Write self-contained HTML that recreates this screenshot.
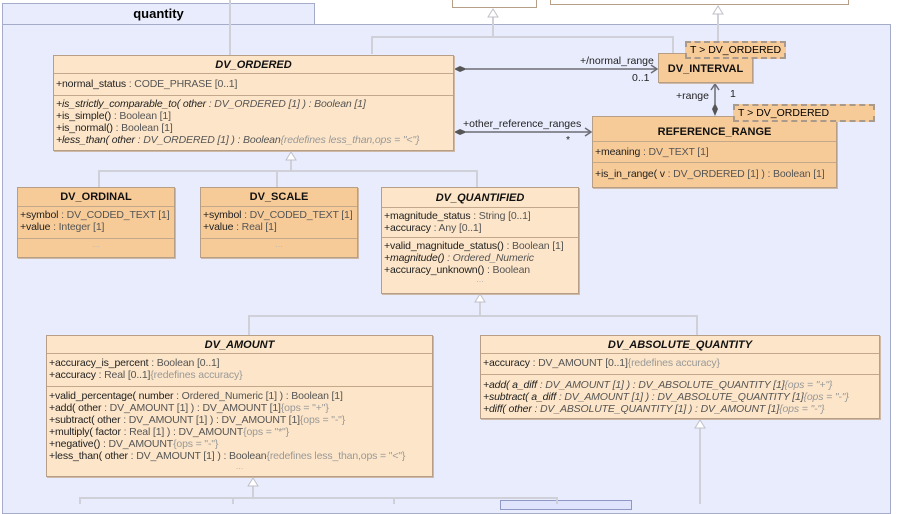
<!DOCTYPE html>
<html><head><meta charset="utf-8"><style>
*{margin:0;padding:0;box-sizing:border-box}
body{width:909px;height:504px;overflow:hidden;background:#fff;font-family:"Liberation Sans",Arial,sans-serif;position:relative}
.abs{position:absolute}
.cls{position:absolute;border:1px solid #b79e86;box-shadow:1px 1px 0 #cdb9a6}
.deep{background:#f7cb98}
.light{background:#fce5c8}
.hd{font-weight:bold;font-size:11px;text-align:center;color:#111;border-bottom:1px solid #c4a88c}
.it{font-style:italic}
.sec{font-size:10.5px;line-height:12px;padding:2px 2px;color:#222;border-bottom:1px solid #c4a88c;white-space:nowrap;letter-spacing:-0.15px}
.sec:last-child{border-bottom:none}
.g{color:#555}
.gg{color:#999}
.dots{text-align:center;color:#bbb;font-size:9px}
.lbl{position:absolute;font-size:10.5px;color:#222;white-space:nowrap}
.tmpl{position:absolute;background:#f7cb98;border:2px dashed #a99a8c;font-size:10.5px;padding:0 3px;line-height:14px;white-space:nowrap}
</style></head><body>
<div class="abs" style="left:2px;top:24px;width:889px;height:490px;background:#e9ecfd;border:1px solid #a5acc9"></div>
<div class="abs" style="left:2px;top:3px;width:313px;height:22px;background:#e9ecfd;border:1px solid #a5acc9;font-weight:bold;font-size:13px;text-align:center;line-height:20px">quantity</div>
<div class="abs" style="left:452px;top:-4px;width:85px;height:12px;background:#fff;border:1px solid #b79e86"></div>
<div class="abs" style="left:550px;top:-4px;width:299px;height:9px;background:#fff;border:1px solid #b79e86"></div>
<div class="abs" style="left:500px;top:500px;width:132px;height:10px;background:#dfe3fb;border:1px solid #8f98c4"></div>

<svg class="abs" style="left:0;top:0" width="909" height="504">
<g stroke="#cfd0d8" stroke-width="2" fill="none">
<line x1="230" y1="0" x2="230" y2="55"/>
<polyline points="372,54 372,37 673,37 673,53"/>
<line x1="493" y1="37" x2="493" y2="16"/>
<line x1="718" y1="41" x2="718" y2="14"/>
<line x1="291" y1="160" x2="291" y2="171"/>
<polyline points="99,187 99,171 477,171 477,187"/>
<line x1="277" y1="171" x2="277" y2="187"/>
<line x1="480" y1="302" x2="480" y2="316"/>
<polyline points="249,335 249,316 697,316 697,335"/>
<line x1="253" y1="486" x2="253" y2="498"/>
<polyline points="80,504 80,498 557,498 557,504"/>
<line x1="233" y1="498" x2="233" y2="504"/>
<line x1="394" y1="498" x2="394" y2="504"/>
<line x1="700" y1="428" x2="700" y2="504"/>
</g>
<g stroke="#c0c0c8" stroke-width="1" fill="#fff">
<polygon points="493,9 488,17 498,17"/>
<polygon points="718,6 713,14 723,14"/>
<polygon points="291,152 286,160 296,160"/>
<polygon points="480,294 475,302 485,302"/>
<polygon points="253,478 248,486 258,486"/>
<polygon points="700,420 695,428 705,428"/>
</g>
<g stroke="#6c6c74" stroke-width="1.5" fill="none">
<line x1="466" y1="69" x2="657" y2="69"/>
<polyline points="651,65 657,69 651,73"/>
<line x1="466" y1="132" x2="591" y2="132"/>
<polyline points="585,128 591,132 585,136"/>
<line x1="715" y1="85" x2="715" y2="104"/>
<polyline points="711,90 715,84 719,90"/>
</g>
<g fill="#555">
<polygon points="454,69 460,66 467,69 460,72"/>
<polygon points="454,132 460,129 467,132 460,135"/>
<polygon points="715,103 712,109 715,116 718,109"/>
</g>
</svg>

<div class="lbl" style="left:580px;top:55px">+/normal_range</div>
<div class="lbl" style="left:632px;top:72px">0..1</div>
<div class="lbl" style="left:676px;top:90px">+range</div>
<div class="lbl" style="left:730px;top:88px">1</div>
<div class="lbl" style="left:463px;top:118px">+other_reference_ranges</div>
<div class="lbl" style="left:566px;top:134px">*</div>

<div class="cls light" style="left:53px;top:55px;width:401px;height:96px">
<div class="hd it" style="height:18px;line-height:18px">DV_ORDERED</div>
<div class="sec" style="height:22px;padding-top:4px">+normal_status <span class="g">: CODE_PHRASE [0..1]</span></div>
<div class="sec"><i>+is_strictly_comparable_to( other <span class="g">: DV_ORDERED [1] ) : Boolean [1]</span></i><br>+is_simple() <span class="g">: Boolean [1]</span><br>+is_normal() <span class="g">: Boolean [1]</span><br><i>+less_than( other <span class="g">: DV_ORDERED [1] ) : Boolean</span><span class="gg">{redefines less_than,ops = "&lt;"}</span></i></div>
</div>

<div class="cls deep" style="left:658px;top:53px;width:95px;height:30px">
<div class="hd" style="border:none;line-height:30px">DV_INTERVAL</div></div>
<div class="tmpl" style="left:685px;top:41px">T &gt; DV_ORDERED</div>

<div class="cls deep" style="left:592px;top:116px;width:245px;height:72px">
<div class="hd" style="height:25px;line-height:30px">REFERENCE_RANGE</div>
<div class="sec" style="height:21px;padding-top:4px">+meaning <span class="g">: DV_TEXT [1]</span></div>
<div class="sec" style="padding-top:5px">+is_in_range( v <span class="g">: DV_ORDERED [1] ) : Boolean [1]</span></div>
</div>
<div class="tmpl" style="left:733px;top:104px;width:142px">T &gt; DV_ORDERED</div>

<div class="cls deep" style="left:17px;top:187px;width:158px;height:71px">
<div class="hd" style="height:19px;line-height:19px">DV_ORDINAL</div>
<div class="sec" style="height:32px">+symbol <span class="g">: DV_CODED_TEXT [1]</span><br>+value <span class="g">: Integer [1]</span></div>
<div class="dots">...</div></div>
<div class="cls deep" style="left:200px;top:187px;width:158px;height:71px">
<div class="hd" style="height:19px;line-height:19px">DV_SCALE</div>
<div class="sec" style="height:32px">+symbol <span class="g">: DV_CODED_TEXT [1]</span><br>+value <span class="g">: Real [1]</span></div>
<div class="dots">...</div></div>
<div class="cls light" style="left:381px;top:187px;width:198px;height:107px">
<div class="hd it" style="height:20px;line-height:20px">DV_QUANTIFIED</div>
<div class="sec" style="height:30px">+magnitude_status <span class="g">: String [0..1]</span><br>+accuracy <span class="g">: Any [0..1]</span></div>
<div class="sec" style="border:none">+valid_magnitude_status() <span class="g">: Boolean [1]</span><br><i>+magnitude() <span class="g">: Ordered_Numeric</span></i><br>+accuracy_unknown() <span class="g">: Boolean</span></div>
<div class="dots" style="margin-top:-4px">...</div></div>

<div class="cls light" style="left:46px;top:335px;width:387px;height:142px">
<div class="hd it" style="height:18px;line-height:18px">DV_AMOUNT</div>
<div class="sec" style="height:33px;padding-top:3px">+accuracy_is_percent <span class="g">: Boolean [0..1]</span><br>+accuracy <span class="g">: Real [0..1]</span><span class="gg">{redefines accuracy}</span></div>
<div class="sec" style="border:none;padding-top:3px">+valid_percentage( number <span class="g">: Ordered_Numeric [1] ) : Boolean [1]</span><br>+add( other <span class="g">: DV_AMOUNT [1] ) : DV_AMOUNT [1]</span><span class="gg">{ops = "+"}</span><br>+subtract( other <span class="g">: DV_AMOUNT [1] ) : DV_AMOUNT [1]</span><span class="gg">{ops = "-"}</span><br>+multiply( factor <span class="g">: Real [1] ) : DV_AMOUNT</span><span class="gg">{ops = "*"}</span><br>+negative() <span class="g">: DV_AMOUNT</span><span class="gg">{ops = "-"}</span><br>+less_than( other <span class="g">: DV_AMOUNT [1] ) : Boolean</span><span class="gg">{redefines less_than,ops = "&lt;"}</span></div>
<div class="dots" style="margin-top:-3px">...</div></div>

<div class="cls light" style="left:480px;top:335px;width:400px;height:84px">
<div class="hd it" style="height:18px;line-height:18px">DV_ABSOLUTE_QUANTITY</div>
<div class="sec" style="height:21px;padding-top:3px">+accuracy <span class="g">: DV_AMOUNT [0..1]</span><span class="gg">{redefines accuracy}</span></div>
<div class="sec it" style="padding-top:4px">+add( a_diff <span class="g">: DV_AMOUNT [1] ) : DV_ABSOLUTE_QUANTITY [1]</span><span class="gg">{ops = "+"}</span><br>+subtract( a_diff <span class="g">: DV_AMOUNT [1] ) : DV_ABSOLUTE_QUANTITY [1]</span><span class="gg">{ops = "-"}</span><br>+diff( other <span class="g">: DV_ABSOLUTE_QUANTITY [1] ) : DV_AMOUNT [1]</span><span class="gg">{ops = "-"}</span></div>
</div>
</body></html>
